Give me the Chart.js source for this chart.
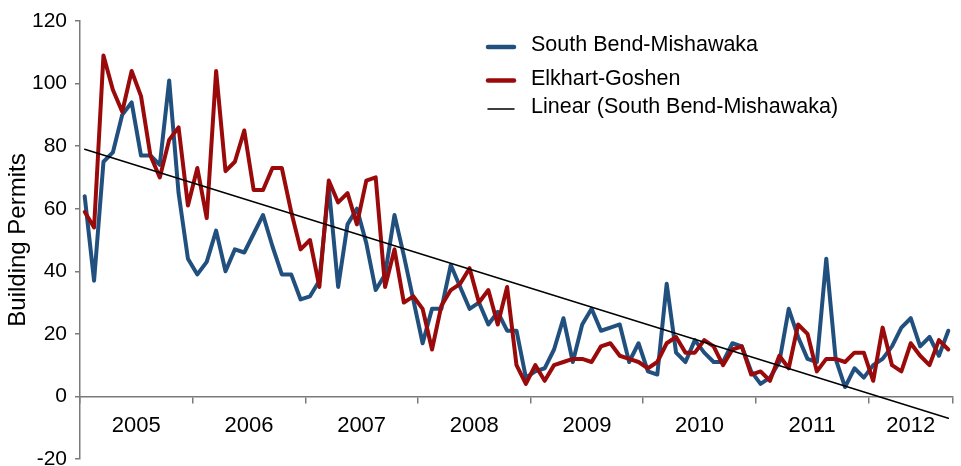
<!DOCTYPE html>
<html>
<head>
<meta charset="utf-8">
<script src="https://cdn.jsdelivr.net/npm/chart.js@4"></script>
<style>
  html, body { margin: 0; padding: 0; background: #fff; }
  #wrap { width: 961px; height: 466px; position: relative; }
</style>
</head>
<body>
<div id="wrap"><canvas id="c" width="961" height="466"></canvas></div>
<script>
// ---- data ----
const years = ['2005', '2006', '2007', '2008', '2009', '2010', '2011', '2012'];
const monthsPerYear = [12, 12, 12, 12, 12, 12, 12, 9];
const monthNames = ['Jan','Feb','Mar','Apr','May','Jun','Jul','Aug','Sep','Oct','Nov','Dec'];

const southBend = [
  64, 37, 75, 78, 90, 94, 77, 77, 74, 101, 65, 44,   // 2005
  39, 43, 53, 40, 47, 46, 52, 58, 48, 39, 39, 31,    // 2006
  32, 37, 67, 35, 55, 60, 49, 34, 39, 58, 45, 31,    // 2007
  17, 28, 28, 42, 35, 28, 30, 23, 27, 21, 21, 6,     // 2008
  8, 9, 15, 25, 11, 23, 28, 21, 22, 23, 11, 17,      // 2009
  8, 7, 36, 14, 11, 18, 14, 11, 11, 17, 16, 8,       // 2010
  4, 6, 11, 28, 19, 12, 11, 44, 12, 3, 9, 6,         // 2011
  10, 12, 16, 22, 25, 16, 19, 13, 21                 // 2012
];
const elkhart = [
  59, 54, 109, 98, 91, 104, 96, 77, 70, 82, 86, 61,  // 2005
  73, 57, 104, 72, 75, 85, 66, 66, 73, 73, 59, 47,   // 2006
  50, 35, 69, 62, 65, 55, 69, 70, 35, 47, 30, 32,    // 2007
  28, 15, 29, 34, 36, 41, 30, 34, 23, 35, 10, 4,     // 2008
  10, 5, 10, 11, 12, 12, 11, 16, 17, 13, 12, 11,     // 2009
  9, 11, 17, 19, 14, 14, 18, 16, 10, 15, 16, 7,      // 2010
  8, 5, 13, 9, 23, 20, 8, 12, 12, 11, 14, 14,        // 2011
  5, 22, 10, 8, 17, 13, 10, 18, 15                   // 2012
];
// linear trend of South Bend-Mishawaka: value at first and last month
const trendEnds = [79, -7];
const yTicks = [-20, 0, 20, 40, 60, 80, 100, 120];

// ---- derived tables for the library ----
const categories = [];
years.forEach((y, k) => { for (let m = 0; m < monthsPerYear[k]; m++) categories.push(monthNames[m] + ' ' + y); });
const nCat = categories.length;
const yearBounds = [0];
monthsPerYear.forEach(n => yearBounds.push(yearBounds[yearBounds.length - 1] + n));
const yearCenters = years.map((y, k) => (yearBounds[k] + yearBounds[k + 1]) / 2);
const toXY = arr => arr.map((v, i) => ({ x: i + 0.5, y: v }));
const trendData = [{ x: 0.5, y: trendEnds[0] }, { x: nCat - 0.5, y: trendEnds[1] }];

const FONT = '"Liberation Sans", Arial, Helvetica, sans-serif';
const AXIS = '#7a7a7a';

const legendPlugin = {
  id: 'customLegend',
  afterDraw(chart) {
    const ctx = chart.ctx;
    const rowsLine = [47, 80.5, 109];
    const rowsText = [45.5, 79, 107.5];
    ctx.save();
    ctx.font = '21.5px ' + FONT;
    ctx.textBaseline = 'middle';
    ctx.textAlign = 'left';
    chart.data.datasets.forEach((ds, i) => {
      ctx.beginPath();
      ctx.strokeStyle = ds.borderColor;
      ctx.lineWidth = i < 2 ? 4.5 : 1.5;
      ctx.lineCap = 'round';
      ctx.moveTo(488, rowsLine[i]);
      ctx.lineTo(514, rowsLine[i]);
      ctx.stroke();
      ctx.fillStyle = '#000';
      ctx.fillText(ds.label, 531, rowsText[i]);
    });
    ctx.restore();
  }
};

new Chart(document.getElementById('c'), {
  type: 'line',
  data: {
    datasets: [
      { label: 'South Bend-Mishawaka', data: toXY(southBend), borderColor: '#22507e', borderWidth: 4, order: 2 },
      { label: 'Elkhart-Goshen', data: toXY(elkhart), borderColor: '#9b0a0a', borderWidth: 4, order: 1 },
      { label: 'Linear (South Bend-Mishawaka)', data: trendData, borderColor: '#000', borderWidth: 1.5, order: 0 }
    ]
  },
  options: {
    responsive: false,
    animation: false,
    events: [],
    clip: false,
    layout: { padding: { top: 21, right: 8, bottom: 7, left: 0 } },
    elements: {
      point: { radius: 0 },
      line: { tension: 0, borderJoinStyle: 'round', borderCapStyle: 'round', fill: false }
    },
    plugins: { legend: { display: false }, tooltip: { enabled: false } },
    scales: {
      x: {
        type: 'linear', min: 0, max: nCat, position: { y: 0 },
        afterBuildTicks: s => { s.ticks = yearBounds.map(v => ({ value: v })); },
        ticks: { display: false },
        grid: { drawOnChartArea: false, drawTicks: true, tickLength: 6, color: AXIS, lineWidth: 1.5 },
        border: { display: true, color: AXIS, width: 1.5 },
        afterFit: s => { s.paddingLeft = 0; s.paddingRight = 0; }
      },
      x2: {
        type: 'linear', axis: 'x', min: 0, max: nCat, position: { y: 0 },
        afterBuildTicks: s => { s.ticks = yearCenters.map(v => ({ value: v })); },
        ticks: {
          autoSkip: false, maxRotation: 0, padding: 16, color: '#000',
          font: { family: FONT, size: 22 },
          callback: (v, i) => years[i]
        },
        grid: { display: false, drawTicks: false },
        border: { display: false },
        afterFit: s => { s.paddingLeft = 0; s.paddingRight = 0; }
      },
      y: {
        type: 'linear', min: -20, max: 120,
        afterBuildTicks: s => { s.ticks = yTicks.map(v => ({ value: v })); },
        ticks: { padding: 8, color: '#000', font: { family: FONT, size: 21 } },
        grid: { drawOnChartArea: false, drawTicks: true, tickLength: 5, color: AXIS, lineWidth: 1.5 },
        border: { display: true, color: AXIS, width: 1.5 },
        title: { display: true, text: 'Building Permits', color: '#000', font: { family: FONT, size: 24 }, padding: { top: 4, bottom: 0 } },
        afterFit: s => { s.width = 80; s.paddingTop = 0; s.paddingBottom = 0; }
      }
    }
  },
  plugins: [legendPlugin]
});
</script>
</body>
</html>
